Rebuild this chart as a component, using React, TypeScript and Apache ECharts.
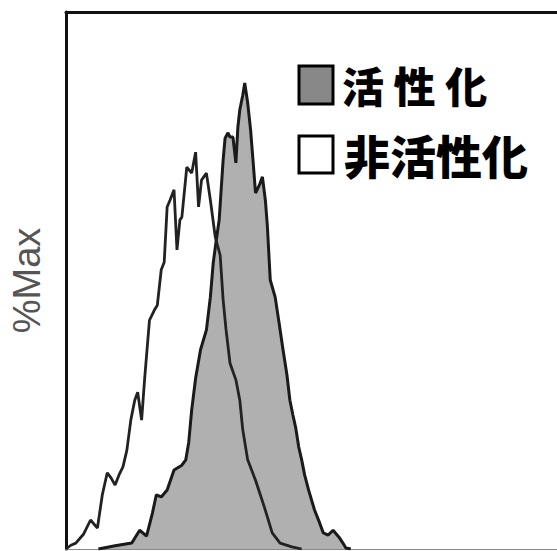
import React, { useEffect, useRef } from "react";
import * as echarts from "echarts";

// Fluorescence channel (x) and %Max (y) for each histogram
const activatedX = [66, 100, 134, 150, 164, 176, 184, 194, 206, 220, 236, 244, 250, 256, 264, 274, 286, 294, 300, 306, 312, 316, 320, 324, 330, 334, 340, 346, 350, 354, 360, 364, 370, 376, 380, 386, 394, 400, 406, 410, 416, 426, 434, 442, 450, 456, 462, 468, 474, 480, 486, 494, 506, 516, 524, 534, 544, 556, 564, 570, 580];
const activatedY = [0, 0.6, 1.1, 3.5, 2.4, 6.7, 10.1, 9.7, 11.0, 14.7, 15.6, 16.6, 19.9, 25.9, 31.8, 37.1, 40.8, 46.9, 53.4, 57.5, 61.3, 66.9, 72.4, 76.5, 77.5, 76.7, 76.7, 71.9, 78.5, 81.8, 84.5, 86.8, 83.1, 78.0, 73.4, 66.3, 67.8, 69.3, 65.0, 60.3, 50.1, 46.9, 42.1, 37.1, 32.4, 27.7, 25.0, 22.5, 19.0, 16.6, 13.8, 11.0, 7.3, 5.0, 3.0, 2.6, 3.5, 2.2, 1.1, 0.2, 0];

const restingX = [0, 10, 20, 36, 50, 64, 74, 84, 92, 100, 108, 116, 124, 132, 140, 146, 154, 160, 170, 180, 186, 194, 200, 206, 212, 220, 226, 232, 236, 246, 256, 264, 270, 276, 286, 294, 304, 314, 320, 326, 334, 346, 354, 360, 370, 386, 404, 420, 436, 460, 480];
const restingY = [0, 0.7, 1.1, 2.8, 5.4, 3.9, 10.1, 14.2, 13.2, 11.9, 13.8, 15.3, 18.4, 24.0, 27.7, 29.2, 24.0, 31.5, 42.6, 44.5, 45.4, 52.0, 53.4, 63.7, 65.0, 66.9, 55.7, 61.3, 61.8, 71.1, 70.0, 73.9, 63.7, 68.7, 70.0, 65.0, 58.1, 54.7, 46.4, 40.8, 34.6, 31.5, 27.7, 22.2, 16.6, 12.8, 7.8, 3.0, 1.1, 0.4, 0];

const yAxisTitle = "%Max";
const legendActivated = "活 性 化";
const legendResting = "非活性化";

const zip = (xs: number[], ys: number[]) => xs.map((x, i) => [x, ys[i]]);

export default function App() {
  const ref = useRef<HTMLDivElement>(null);
  useEffect(() => {
    if (!ref.current) return;
    const chart = echarts.init(ref.current, undefined, { renderer: "svg" });
    chart.setOption({
      animation: false,
      backgroundColor: "#fff",
      grid: { left: 60, top: 12, right: -3, bottom: 2 },
      xAxis: [
        {
          type: "value",
          min: 0,
          max: 1000,
          position: "bottom",
          axisLine: { show: true, lineStyle: { color: "#8a8a8a", width: 1 } },
          axisTick: { show: false },
          axisLabel: { show: false },
          splitLine: { show: false },
        },
        {
          type: "value",
          min: 0,
          max: 1000,
          position: "top",
          axisLine: { show: true, lineStyle: { color: "#111", width: 3 } },
          axisTick: { show: false },
          axisLabel: { show: false },
          splitLine: { show: false },
        },
      ],
      yAxis: {
        type: "value",
        min: 0,
        max: 100,
        name: yAxisTitle,
        nameLocation: "middle",
        nameRotate: 90,
        nameGap: 20,
        nameTextStyle: { fontSize: 38, color: "#555", fontFamily: "Liberation Sans, Arial, sans-serif" },
        axisLine: { show: true, lineStyle: { color: "#111", width: 3 } },
        axisTick: { show: false },
        axisLabel: { show: false },
        splitLine: { show: false },
      },
      series: [
        {
          name: legendActivated,
          type: "line",
          data: zip(activatedX, activatedY),
          showSymbol: false,
          lineStyle: { color: "#1a1a1a", width: 3 },
          areaStyle: { color: "#b0b0b0", opacity: 1 },
          z: 2,
        },
        {
          name: legendResting,
          type: "line",
          data: zip(restingX, restingY),
          showSymbol: false,
          lineStyle: { color: "#222", width: 2.8 },
          z: 3,
        },
      ],
      graphic: [
        {
          type: "rect",
          shape: { x: 299, y: 66, width: 34, height: 38 },
          style: { fill: "#888", stroke: "#000", lineWidth: 3 },
        },
        {
          type: "text",
          x: 342,
          y: 84,
          style: {
            text: legendActivated,
            font: "900 42px 'Noto Sans CJK JP'",
            fill: "#000",
            verticalAlign: "middle",
          },
        },
        {
          type: "rect",
          shape: { x: 299, y: 136, width: 34, height: 37 },
          style: { fill: "#fff", stroke: "#000", lineWidth: 3 },
        },
        {
          type: "text",
          x: 344,
          y: 154,
          style: {
            text: legendResting,
            font: "900 46px 'Noto Sans CJK JP'",
            fill: "#000",
            verticalAlign: "middle",
          },
        },
      ],
    });
    return () => chart.dispose();
  }, []);
  return <div ref={ref} style={{ width: 557, height: 551, position: "absolute", left: 0, top: 0 }} />;
}
